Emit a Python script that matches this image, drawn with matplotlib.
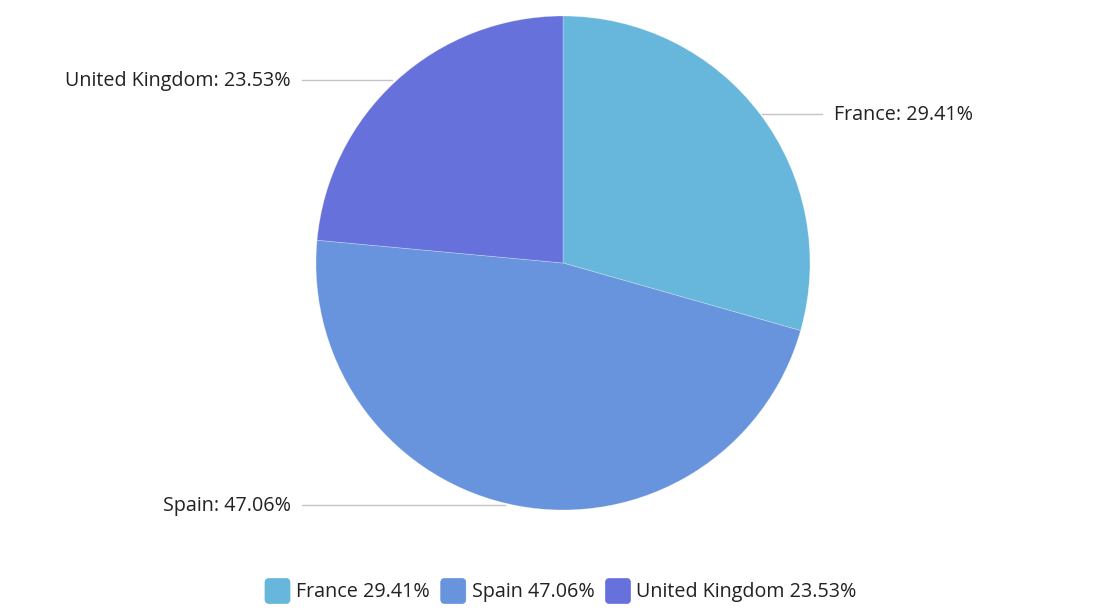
import matplotlib
matplotlib.use("Agg")
import matplotlib.pyplot as plt
from matplotlib.patches import FancyBboxPatch

categories = ["France", "Spain", "United Kingdom"]
values = [5, 8, 4]
colors = ["#67b7dc", "#6794dc", "#6771dc"]

W, H = 1093, 614
fig = plt.figure(figsize=(W / 100, H / 100), dpi=100)
ax = fig.add_axes([0, 0, 1, 1])

cx, cy, r = 563, H - 263, 247
total = sum(values)
pcts = [v / total * 100 for v in values]

wedges, _ = ax.pie(values, colors=colors, startangle=90, counterclock=False,
                   center=(cx, cy), radius=r, frame=True,
                   wedgeprops=dict(edgecolor=(1, 1, 1, 0.35), linewidth=0.5))
ax.set_xlim(0, W)
ax.set_ylim(0, H)
ax.set_aspect("equal")
ax.axis("off")

font = ["Open Sans", "DejaVu Sans"]
fs = 14.2
line_col = "#c4c4c4"

# label layout (pixel positions, top-origin y)
label_specs = {
    "France": dict(y=115, x0=762, x1=822, tx=834, ha="left"),
    "Spain": dict(y=506, x0=505, x1=302, tx=291, ha="right"),
    "United Kingdom": dict(y=81, x0=392, x1=302, tx=291, ha="right"),
}
for cat, p in zip(categories, pcts):
    s = label_specs[cat]
    yy = H - s["y"]
    ax.plot([s["x0"], s["x1"]], [yy + 1, yy + 1], color=line_col, lw=1)
    ax.text(s["tx"], yy, f"{cat}: {p:.2f}%", ha=s["ha"], va="center",
            fontsize=fs, family=font, color="#222222")

# legend
fig.canvas.draw()
renderer = fig.canvas.get_renderer()
x = 265
ly = H - 591
sq = 25
for cat, p, c in zip(categories, pcts, colors):
    box = FancyBboxPatch((x + 2, ly - sq / 2 + 2), sq - 4, sq - 4,
                         boxstyle="round,pad=2,rounding_size=4",
                         facecolor=c, edgecolor=c, lw=0.5)
    ax.add_patch(box)
    t = ax.text(x + sq + 6, ly - 1, f"{cat} {p:.2f}%", ha="left", va="center",
                fontsize=fs, family=font, color="#222222")
    bb = t.get_window_extent(renderer=renderer)
    x = bb.x1 + 11

fig.savefig("out.png", dpi=100)
